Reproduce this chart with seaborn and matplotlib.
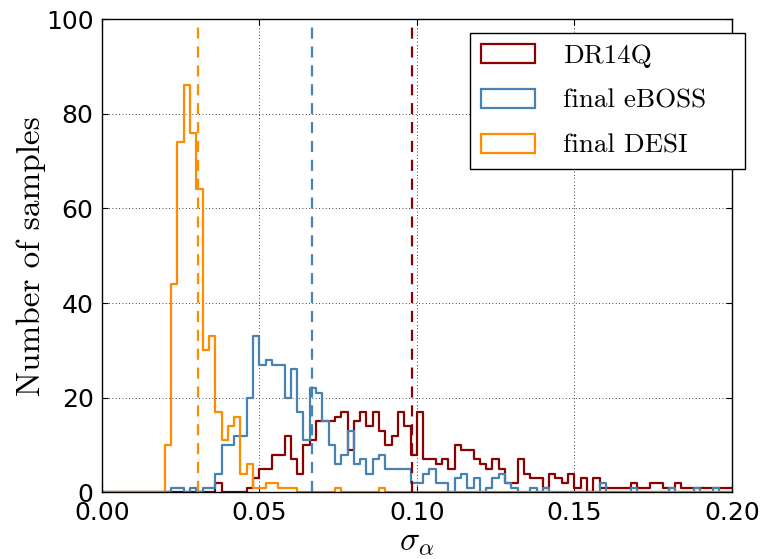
import numpy as np
import pandas as pd
import matplotlib
matplotlib.use("Agg")
import matplotlib.pyplot as plt
from matplotlib.patches import Patch
import seaborn as sns

# Histogram range and bin width of sigma_alpha
x_min, x_max = 0.0, 0.2
bin_width = 0.002

# Number of samples per 0.002-wide bin, starting at sigma_alpha = 0
dr14q_counts = [
    0, 0, 0, 0, 0, 0, 0, 0, 0, 0,
    0, 0, 0, 0, 0, 0, 0, 0, 2, 0,
    0, 0, 0, 1, 3, 5, 5, 8, 8, 12,
    7, 4, 10, 11, 15, 15, 15, 16, 17, 9,
    15, 17, 14, 17, 13, 10, 12, 17, 14, 8,
    17, 7, 7, 6, 7, 5, 10, 9, 9, 7,
    6, 5, 7, 5, 2, 2, 7, 4, 3, 3,
    1, 4, 3, 2, 4, 1, 3, 0, 3, 1,
    1, 1, 1, 1, 2, 1, 1, 2, 2, 1,
    1, 2, 1, 1, 1, 1, 1, 1, 1, 1,
]
eboss_counts = [
    0, 0, 0, 0, 0, 0, 0, 0, 0, 0,
    0, 1, 1, 0, 1, 0, 1, 1, 4, 10,
    10, 12, 12, 20, 33, 27, 28, 27, 27, 20,
    26, 17, 11, 22, 21, 15, 10, 6, 8, 13,
    6, 7, 4, 7, 8, 5, 5, 5, 5, 2,
    2, 4, 5, 2, 2, 0, 3, 4, 1, 3,
    0, 1, 3, 4, 2, 1, 0, 0, 1, 0,
    1, 0, 0, 0, 0, 0, 0, 0, 0, 2,
    0, 0, 0, 0, 1, 0, 0, 0, 0, 0,
    1, 0, 0, 0, 1, 0, 0, 1, 0, 0,
]
desi_counts = [
    0, 0, 0, 0, 0, 0, 0, 0, 0, 0,
    10, 44, 74, 86, 76, 64, 30, 33, 17, 11,
    14, 16, 4, 6, 1, 1, 2, 2, 1, 1,
    1, 0, 0, 0, 0, 0, 0, 1, 0, 0,
    0, 0, 0, 0, 1, 0, 0, 0, 0, 0,
    0, 0, 0, 0, 0, 0, 0, 0, 0, 0,
    0, 0, 0, 0, 0, 0, 0, 0, 0, 0,
    0, 0, 0, 0, 0, 0, 0, 0, 0, 0,
    0, 0, 0, 0, 0, 0, 0, 0, 0, 0,
    0, 0, 0, 0, 0, 0, 0, 0, 0, 0,
]

# Median sigma_alpha of each survey
dr14q_median = 0.0983
eboss_median = 0.0668
desi_median = 0.0306

survey_names = ["DR14Q", "final eBOSS", "final DESI"]
survey_colors = ["darkred", "steelblue", "darkorange"]

x_ticks = [0.00, 0.05, 0.10, 0.15, 0.20]
y_ticks = [0, 20, 40, 60, 80, 100]

sns.set_style("ticks", {
    "xtick.direction": "in",
    "ytick.direction": "in",
    "axes.edgecolor": "black",
    "axes.labelcolor": "black",
    "text.color": "black",
    "xtick.color": "black",
    "ytick.color": "black",
    "axes.grid": False,
})
plt.rcParams.update({
    "font.family": ["DejaVu Sans"],
    "mathtext.fontset": "cm",
    "xtick.top": True,
    "ytick.right": True,
    "xtick.major.size": 4,
    "ytick.major.size": 4,
    "xtick.major.width": 0.8,
    "ytick.major.width": 0.8,
    "axes.linewidth": 1.0,
})

n_bins = len(dr14q_counts)
edges = [round(x_min + i * bin_width, 6) for i in range(n_bins + 1)]
centers = [0.5 * (edges[i] + edges[i + 1]) for i in range(n_bins)]

frames = []
for name, counts in zip(survey_names, [dr14q_counts, eboss_counts, desi_counts]):
    frames.append(pd.DataFrame({"sigma_alpha": centers, "count": counts, "survey": name}))
df = pd.concat(frames, ignore_index=True)

fig = plt.figure(figsize=(7.6, 5.59), dpi=100)
ax = fig.add_axes([0.134, 0.119, 0.829, 0.847])

for name, color in zip(survey_names, survey_colors):
    sub = df[df["survey"] == name]
    sns.histplot(data=sub, x="sigma_alpha", weights="count", bins=edges,
                 element="step", fill=False, color=color, linewidth=1.6, ax=ax)

dash = (0, (5, 3.5))
for med, color in zip([dr14q_median, eboss_median, desi_median], survey_colors):
    ax.axvline(med, color=color, linestyle=dash, linewidth=1.6)

ax.set_xlim(x_min, x_max)
ax.set_ylim(0, 100)
ax.set_xticks(x_ticks)
ax.set_xticklabels([f"{t:.2f}" for t in x_ticks])
ax.set_yticks(y_ticks)
ax.tick_params(labelsize=18, pad=6, colors="black")
ax.grid(True, color="black", linestyle=(0, (1, 3)), linewidth=0.6)
ax.set_axisbelow(True)

ax.set_xlabel(r"$\sigma_\alpha$", fontsize=24, labelpad=0)
ax.set_ylabel("Number of samples", fontsize=24, family=["cmr10"], labelpad=0)

handles = [Patch(facecolor="none", edgecolor=c, linewidth=1.6, label=n)
           for n, c in zip(survey_names, survey_colors)]
leg = ax.legend(handles=handles, loc="upper right", mode="expand",
                bbox_to_anchor=(0.5842, 0.5, 0.4363, 0.471),
                borderaxespad=0, prop={"family": "cmr10", "size": 19.5},
                frameon=True, fancybox=False, framealpha=1, edgecolor="black",
                handlelength=2.0, handleheight=0.7, handletextpad=1.05,
                labelspacing=0.78, borderpad=0.4)
leg.get_frame().set_linewidth(1.0)

fig.savefig("out.png", dpi=100)
